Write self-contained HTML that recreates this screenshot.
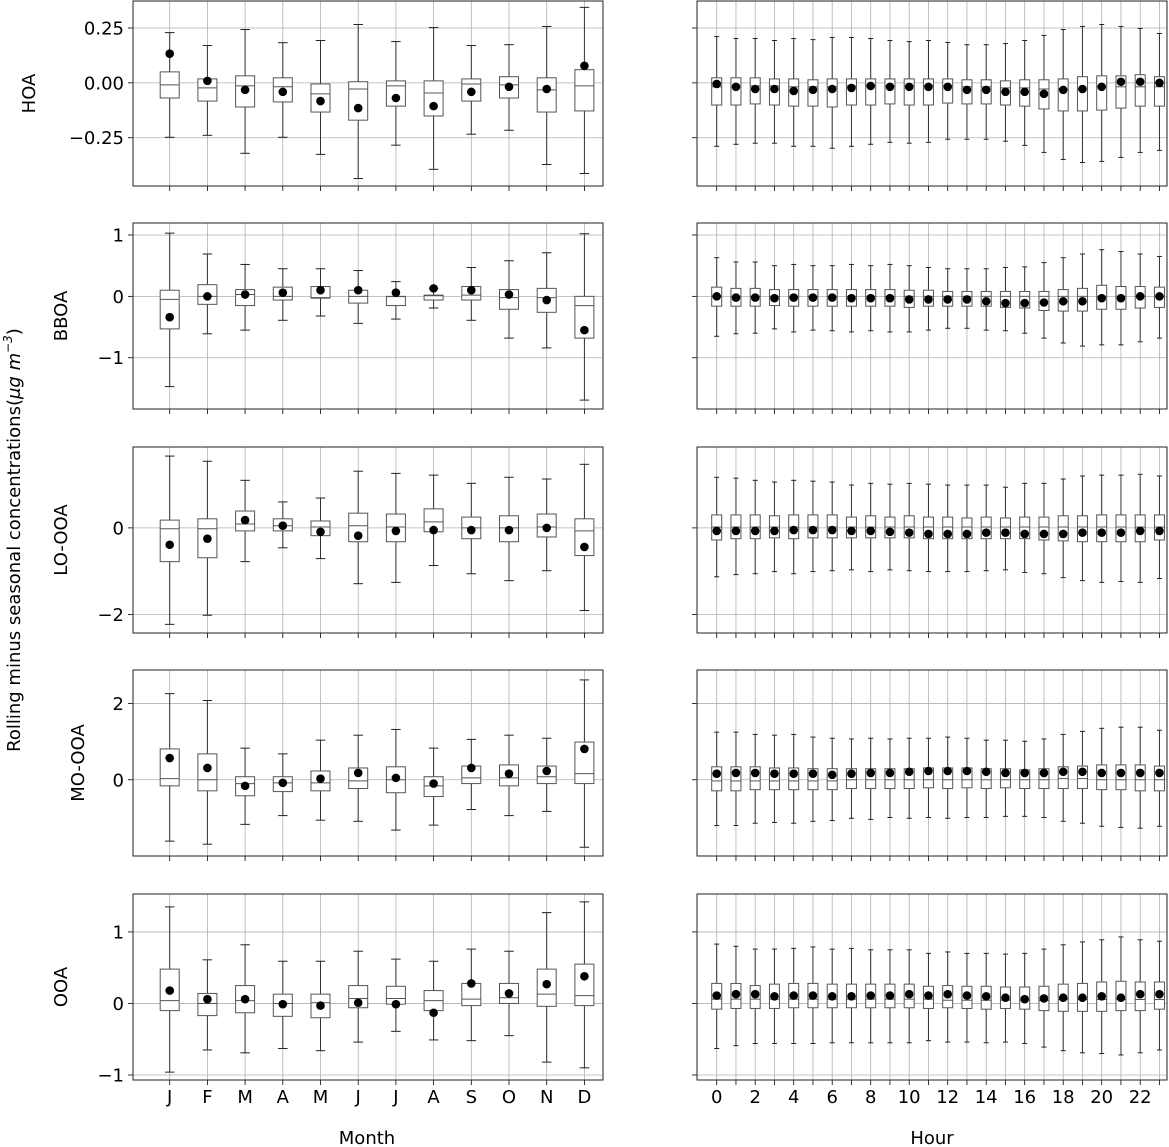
<!DOCTYPE html>
<html><head><meta charset="utf-8"><style>
html,body{margin:0;padding:0;background:#fff;}
svg{display:block;font-family:"DejaVu Sans","Liberation Sans",sans-serif;}
</style></head><body>
<svg id="chart" width="1169" height="1147" viewBox="0 0 1169 1147" xmlns="http://www.w3.org/2000/svg">
<text transform="translate(20,540) rotate(-90)" text-anchor="middle" font-size="18" fill="#000">Rolling minus seasonal concentrations(<tspan font-style="italic">μg m</tspan><tspan font-style="italic" font-size="12" dy="-8">−3</tspan><tspan dy="8">)</tspan></text>
<text x="367" y="1144" text-anchor="middle" font-size="18" fill="#000">Month</text>
<text x="932" y="1144" text-anchor="middle" font-size="18" fill="#000">Hour</text>
</svg>
<script>
const months = ["J","F","M","A","M","J","J","A","S","O","N","D"];
const hourTicks = [0,2,4,6,8,10,12,14,16,18,20,22];
// ---- Month data (HOA)
const hoaM_hi=[0.229,0.170,0.243,0.183,0.193,0.266,0.188,0.252,0.170,0.174,0.257,0.344];
const hoaM_q3=[0.050,0.018,0.032,0.023,-0.005,0.005,0.009,0.009,0.018,0.028,0.023,0.060];
const hoaM_med=[-0.009,-0.023,-0.014,-0.018,-0.050,-0.028,-0.014,-0.046,-0.005,-0.009,-0.032,-0.014];
const hoaM_q1=[-0.069,-0.083,-0.110,-0.087,-0.133,-0.170,-0.106,-0.151,-0.083,-0.069,-0.133,-0.128];
const hoaM_lo=[-0.248,-0.239,-0.321,-0.248,-0.326,-0.436,-0.284,-0.394,-0.234,-0.216,-0.372,-0.413];
const hoaM_mean=[0.133,0.009,-0.032,-0.041,-0.083,-0.115,-0.069,-0.106,-0.041,-0.018,-0.028,0.078];
// BBOA
const bbM_hi=[1.03,0.69,0.52,0.45,0.45,0.42,0.24,0.13,0.47,0.58,0.71,1.02];
const bbM_q3=[0.10,0.19,0.11,0.15,0.16,0.10,0,0.02,0.16,0.11,0.13,0];
const bbM_med=[-0.05,0,0.03,0,-0.02,0,-0.005,0.01,0.02,-0.02,-0.02,-0.15];
const bbM_q1=[-0.53,-0.13,-0.15,-0.06,-0.03,-0.11,-0.15,-0.06,-0.06,-0.21,-0.26,-0.68];
const bbM_lo=[-1.47,-0.61,-0.55,-0.39,-0.32,-0.44,-0.37,-0.19,-0.39,-0.68,-0.84,-1.69];
const bbM_mean=[-0.34,0,0.03,0.06,0.10,0.10,0.06,0.13,0.10,0.03,-0.06,-0.55];
// LO-OOA
const loM_hi=[1.66,1.54,1.10,0.60,0.69,1.31,1.26,1.22,1.03,1.17,1.13,1.47];
const loM_q3=[0.18,0.21,0.39,0.21,0.16,0.34,0.32,0.44,0.25,0.28,0.32,0.21];
const loM_med=[-0.02,-0.02,0.09,0.05,0.02,0.05,0.02,0.14,0,0,0.02,-0.07];
const loM_q1=[-0.78,-0.69,-0.07,-0.07,-0.18,-0.32,-0.32,-0.09,-0.25,-0.32,-0.21,-0.64];
const loM_lo=[-2.23,-2.02,-0.78,-0.46,-0.71,-1.29,-1.26,-0.87,-1.06,-1.22,-0.99,-1.91];
const loM_mean=[-0.39,-0.25,0.18,0.05,-0.09,-0.18,-0.07,-0.05,-0.05,-0.05,0,-0.44];
// MO-OOA
const moM_hi=[2.26,2.08,0.83,0.68,1.04,1.17,1.32,0.83,1.06,1.17,1.09,2.62];
const moM_q3=[0.81,0.68,0.08,0.08,0.23,0.31,0.34,0.08,0.36,0.39,0.36,0.99];
const moM_med=[0.03,0,-0.10,-0.08,-0.08,-0.03,0,-0.16,0.05,0.05,0.08,0.16];
const moM_q1=[-0.16,-0.29,-0.42,-0.31,-0.29,-0.23,-0.34,-0.44,-0.10,-0.16,-0.10,-0.10];
const moM_lo=[-1.61,-1.69,-1.17,-0.94,-1.06,-1.09,-1.32,-1.19,-0.78,-0.94,-0.83,-1.77];
const moM_mean=[0.57,0.31,-0.16,-0.08,0.03,0.18,0.05,-0.10,0.31,0.16,0.23,0.81];
// OOA
const ooM_hi=[1.35,0.61,0.82,0.59,0.59,0.73,0.62,0.59,0.76,0.73,1.27,1.42];
const ooM_q3=[0.48,0.14,0.25,0.13,0.13,0.25,0.24,0.18,0.28,0.28,0.48,0.55];
const ooM_med=[0.04,0,0.04,0,0.01,0.07,0.07,0.04,0.06,0.08,0.13,0.11];
const ooM_q1=[-0.10,-0.17,-0.13,-0.18,-0.20,-0.06,-0.01,-0.10,-0.03,0,-0.04,-0.03];
const ooM_lo=[-0.96,-0.65,-0.69,-0.63,-0.66,-0.54,-0.39,-0.51,-0.52,-0.45,-0.82,-0.90];
const ooM_mean=[0.18,0.06,0.06,-0.01,-0.03,0.01,-0.01,-0.13,0.28,0.14,0.27,0.38];
// ---- Hour data (HOA)
const hoaH_hi=[0.211,0.202,0.202,0.193,0.202,0.197,0.207,0.207,0.202,0.193,0.188,0.193,0.184,0.174,0.174,0.179,0.193,0.216,0.243,0.257,0.266,0.257,0.248,0.225];
const hoaH_q3=[0.023,0.023,0.023,0.018,0.018,0.014,0.018,0.018,0.018,0.018,0.018,0.018,0.018,0.014,0.014,0.009,0.014,0.014,0.018,0.028,0.032,0.032,0.037,0.028];
const hoaH_med=[-0.018,-0.018,-0.014,-0.014,-0.018,-0.018,-0.018,-0.014,-0.014,-0.014,-0.014,-0.014,-0.014,-0.018,-0.018,-0.023,-0.023,-0.028,-0.028,-0.028,-0.018,-0.018,-0.018,-0.018];
const hoaH_q1=[-0.101,-0.101,-0.096,-0.101,-0.106,-0.106,-0.110,-0.101,-0.101,-0.096,-0.101,-0.101,-0.092,-0.096,-0.096,-0.101,-0.106,-0.119,-0.128,-0.128,-0.124,-0.115,-0.106,-0.106];
const hoaH_lo=[-0.289,-0.280,-0.275,-0.275,-0.289,-0.289,-0.298,-0.289,-0.280,-0.271,-0.275,-0.271,-0.257,-0.257,-0.257,-0.266,-0.285,-0.317,-0.349,-0.363,-0.358,-0.340,-0.317,-0.308];
const hoaH_mean=[-0.005,-0.018,-0.028,-0.028,-0.037,-0.032,-0.028,-0.023,-0.014,-0.018,-0.018,-0.018,-0.018,-0.032,-0.032,-0.041,-0.041,-0.050,-0.032,-0.028,-0.018,0.005,0.005,0];
// BBOA
const bbH_hi=[0.63,0.56,0.56,0.50,0.52,0.50,0.50,0.52,0.50,0.52,0.50,0.47,0.45,0.45,0.45,0.47,0.48,0.55,0.63,0.69,0.76,0.73,0.69,0.65];
const bbH_q3=[0.15,0.13,0.13,0.11,0.11,0.11,0.11,0.11,0.11,0.11,0.10,0.10,0.08,0.08,0.08,0.08,0.08,0.08,0.11,0.13,0.18,0.16,0.16,0.15];
const bbH_med=[0,0,0,0,0,0,0,0,0,0,0,0,0,0,0,0,0,0,0,0,0,0,0,0];
const bbH_q1=[-0.16,-0.16,-0.16,-0.15,-0.16,-0.16,-0.16,-0.16,-0.16,-0.16,-0.18,-0.16,-0.16,-0.16,-0.16,-0.18,-0.19,-0.23,-0.24,-0.24,-0.21,-0.21,-0.19,-0.18];
const bbH_lo=[-0.65,-0.61,-0.60,-0.53,-0.58,-0.55,-0.56,-0.58,-0.56,-0.58,-0.58,-0.55,-0.52,-0.52,-0.55,-0.56,-0.60,-0.68,-0.76,-0.81,-0.79,-0.79,-0.74,-0.68];
const bbH_mean=[0,-0.02,-0.02,-0.03,-0.02,-0.02,-0.02,-0.03,-0.03,-0.03,-0.05,-0.05,-0.05,-0.05,-0.08,-0.11,-0.11,-0.10,-0.08,-0.08,-0.03,-0.03,0,0];
// LO-OOA
const loH_hi=[1.17,1.15,1.10,1.06,1.10,1.08,1.06,0.99,1.03,1.01,1.03,1.01,0.99,0.99,0.99,0.94,1.03,1.03,1.13,1.20,1.22,1.22,1.24,1.20];
const loH_q3=[0.30,0.30,0.30,0.28,0.30,0.30,0.30,0.25,0.28,0.25,0.28,0.25,0.25,0.23,0.25,0.23,0.25,0.25,0.28,0.28,0.30,0.30,0.30,0.30];
const loH_med=[0.02,0.02,0.02,0.02,0.02,0.02,0.02,0.02,0.02,0.02,0.02,0.02,0.02,0.02,0.02,0.02,0.02,0.02,0.02,0.02,0.02,0.02,0.02,0.02];
const loH_q1=[-0.28,-0.25,-0.25,-0.23,-0.25,-0.23,-0.23,-0.23,-0.23,-0.23,-0.23,-0.25,-0.25,-0.25,-0.25,-0.25,-0.25,-0.28,-0.30,-0.32,-0.32,-0.32,-0.32,-0.28];
const loH_lo=[-1.13,-1.08,-1.06,-1.01,-1.06,-1.01,-0.99,-0.97,-1.01,-0.97,-0.99,-1.01,-1.01,-1.01,-0.99,-0.97,-1.03,-1.06,-1.15,-1.22,-1.26,-1.24,-1.26,-1.17];
const loH_mean=[-0.07,-0.07,-0.07,-0.07,-0.05,-0.05,-0.05,-0.07,-0.07,-0.09,-0.11,-0.14,-0.14,-0.14,-0.11,-0.11,-0.14,-0.14,-0.14,-0.11,-0.11,-0.11,-0.07,-0.07];
// MO-OOA
const moH_hi=[1.25,1.25,1.19,1.17,1.19,1.12,1.09,1.07,1.09,1.07,1.09,1.09,1.12,1.09,1.04,1.04,1.01,1.07,1.19,1.27,1.35,1.38,1.38,1.30];
const moH_q3=[0.34,0.34,0.34,0.31,0.31,0.29,0.29,0.29,0.29,0.29,0.29,0.31,0.31,0.31,0.29,0.29,0.26,0.29,0.34,0.36,0.39,0.39,0.39,0.36];
const moH_med=[-0.03,-0.03,-0.03,-0.03,-0.03,-0.03,-0.03,0,0,0,0,0,0,0,0,0,0,0,0.03,0.03,0,0,0,0];
const moH_q1=[-0.29,-0.29,-0.26,-0.26,-0.26,-0.26,-0.26,-0.23,-0.23,-0.23,-0.23,-0.21,-0.23,-0.21,-0.23,-0.21,-0.23,-0.23,-0.23,-0.23,-0.26,-0.26,-0.29,-0.29];
const moH_lo=[-1.20,-1.20,-1.14,-1.12,-1.14,-1.09,-1.07,-1.01,-1.04,-0.99,-1.01,-0.99,-1.01,-0.99,-0.99,-0.96,-0.96,-0.99,-1.09,-1.14,-1.22,-1.25,-1.27,-1.22];
const moH_mean=[0.16,0.18,0.18,0.16,0.16,0.16,0.13,0.16,0.18,0.18,0.21,0.23,0.23,0.23,0.21,0.18,0.18,0.18,0.21,0.21,0.18,0.18,0.18,0.18];
// OOA
const ooH_hi=[0.83,0.80,0.76,0.76,0.77,0.79,0.76,0.77,0.75,0.75,0.75,0.70,0.72,0.70,0.70,0.69,0.70,0.76,0.82,0.86,0.89,0.93,0.89,0.87];
const ooH_q3=[0.28,0.28,0.25,0.27,0.28,0.28,0.27,0.27,0.27,0.27,0.27,0.24,0.25,0.24,0.24,0.23,0.23,0.24,0.27,0.28,0.30,0.31,0.30,0.30];
const ooH_med=[0.06,0.06,0.06,0.06,0.06,0.06,0.06,0.06,0.06,0.06,0.06,0.06,0.045,0.045,0.045,0.045,0.045,0.04,0.055,0.055,0.055,0.055,0.055,0.055];
const ooH_q1=[-0.08,-0.07,-0.07,-0.07,-0.06,-0.06,-0.06,-0.06,-0.06,-0.06,-0.06,-0.07,-0.06,-0.07,-0.08,-0.07,-0.08,-0.10,-0.11,-0.11,-0.11,-0.10,-0.10,-0.08];
const ooH_lo=[-0.63,-0.59,-0.56,-0.56,-0.56,-0.56,-0.55,-0.55,-0.55,-0.55,-0.55,-0.52,-0.54,-0.54,-0.55,-0.54,-0.56,-0.61,-0.66,-0.69,-0.70,-0.72,-0.69,-0.65];
const ooH_mean=[0.11,0.13,0.13,0.10,0.11,0.11,0.10,0.10,0.11,0.11,0.13,0.11,0.13,0.11,0.10,0.08,0.06,0.07,0.08,0.08,0.10,0.08,0.13,0.13];

const rows=[
 {label:"HOA",lx:35,top:1,bot:186,y0:0.373,y1:-0.47,ticks:[0.25,0,-0.25],fmt:v=>v.toFixed(2),
  M:[hoaM_hi,hoaM_q3,hoaM_med,hoaM_q1,hoaM_lo,hoaM_mean],H:[hoaH_hi,hoaH_q3,hoaH_med,hoaH_q1,hoaH_lo,hoaH_mean]},
 {label:"BBOA",lx:67,top:223,bot:409,y0:1.195,y1:-1.835,ticks:[1,0,-1],fmt:v=>String(v),
  M:[bbM_hi,bbM_q3,bbM_med,bbM_q1,bbM_lo,bbM_mean],H:[bbH_hi,bbH_q3,bbH_med,bbH_q1,bbH_lo,bbH_mean]},
 {label:"LO-OOA",lx:67,top:447,bot:633,y0:1.87,y1:-2.43,ticks:[0,-2],fmt:v=>String(v),
  M:[loM_hi,loM_q3,loM_med,loM_q1,loM_lo,loM_mean],H:[loH_hi,loH_q3,loH_med,loH_q1,loH_lo,loH_mean]},
 {label:"MO-OOA",lx:84,top:670,bot:856,y0:2.88,y1:-2.0,ticks:[2,0],fmt:v=>String(v),
  M:[moM_hi,moM_q3,moM_med,moM_q1,moM_lo,moM_mean],H:[moH_hi,moH_q3,moH_med,moH_q1,moH_lo,moH_mean]},
 {label:"OOA",lx:67,top:894,bot:1080,y0:1.53,y1:-1.07,ticks:[1,0,-1],fmt:v=>String(v),
  M:[ooM_hi,ooM_q3,ooM_med,ooM_q1,ooM_lo,ooM_mean],H:[ooH_hi,ooH_q3,ooH_med,ooH_q1,ooH_lo,ooH_mean]}
];
const svg=document.getElementById('chart');
const NS="http://www.w3.org/2000/svg";
function mk(tag,attrs,parent){const e=document.createElementNS(NS,tag);for(const k in attrs)e.setAttribute(k,attrs[k]);(parent||svg).appendChild(e);return e;}
function fmtMinus(s){return s.replace('-','\u2212');}

const L={x0:133,x1:603}, R={x0:697,x1:1167};
const xM=i=>169.7+37.7*i;
const xH=h=>716.7+19.25*h;

rows.forEach((r,ri)=>{
  const ys=v=>r.top+(r.y0-v)/(r.y0-r.y1)*(r.bot-r.top);
  [["M",L,12,xM,19,9.5],["H",R,24,xH,10,5]].forEach(([kind,P,n,xf,bw,cw])=>{
    const g=mk('g',{});
    
    
    for(let i=0;i<n;i++){mk('line',{x1:xf(i),x2:xf(i),y1:r.top,y2:r.bot,stroke:'#b0b0b0','stroke-width':0.8},g);}
    r.ticks.forEach(t=>{const y=ys(t);mk('line',{x1:P.x0,x2:P.x1,y1:y,y2:y,stroke:'#b0b0b0','stroke-width':0.8},g);
      mk('line',{x1:P.x0-5,x2:P.x0,y1:y,y2:y,stroke:'#000','stroke-width':0.8},g);
      if(kind==="M"){const t2=mk('text',{x:P.x0-9,y:y+6.5,'text-anchor':'end','font-size':18,fill:'#000'},g);t2.textContent=fmtMinus(r.fmt(t));
        }
    });
    for(let i=0;i<n;i++){mk('line',{x1:xf(i),x2:xf(i),y1:r.bot,y2:r.bot+5,stroke:'#000','stroke-width':0.8},g);}
    const D=r[kind];
    for(let i=0;i<n;i++){
      const x=xf(i),hi=ys(D[0][i]),q3=ys(D[1][i]),md=ys(D[2][i]),q1=ys(D[3][i]),lo=ys(D[4][i]),mn=ys(D[5][i]);
      const b=mk('g',{},g);
      
      
      mk('line',{x1:x,x2:x,y1:hi,y2:q3,stroke:'#333','stroke-width':1},b);
      mk('line',{x1:x,x2:x,y1:q1,y2:lo,stroke:'#333','stroke-width':1},b);
      mk('line',{x1:x-cw/2,x2:x+cw/2,y1:hi,y2:hi,stroke:'#222','stroke-width':1},b);
      mk('line',{x1:x-cw/2,x2:x+cw/2,y1:lo,y2:lo,stroke:'#222','stroke-width':1},b);
      mk('rect',{x:x-bw/2,y:q3,width:bw,height:Math.max(0.5,q1-q3),fill:'#fff',stroke:'#555','stroke-width':1},b);
      mk('line',{x1:x-bw/2,x2:x+bw/2,y1:md,y2:md,stroke:'#555','stroke-width':1},b);
      mk('circle',{cx:x,cy:mn,r:4.3,fill:'#000'},b);
    }
    mk('rect',{x:P.x0,y:r.top,width:P.x1-P.x0,height:r.bot-r.top,fill:'none',stroke:'#222','stroke-width':1},g);
  });
  const yl=mk('text',{x:0,y:0,transform:`translate(${r.lx},${(r.top+r.bot)/2}) rotate(-90)`,'text-anchor':'middle','font-size':18,fill:'#000'});
  yl.textContent=r.label;
  
  
});
months.forEach((m,i)=>{const t=mk('text',{x:xM(i),y:1103,'text-anchor':'middle','font-size':18,fill:'#000'});t.textContent=m;
  });
hourTicks.forEach(h=>{const t=mk('text',{x:xH(h),y:1103,'text-anchor':'middle','font-size':18,fill:'#000'});t.textContent=String(h);
  });
</script>
</body></html>
